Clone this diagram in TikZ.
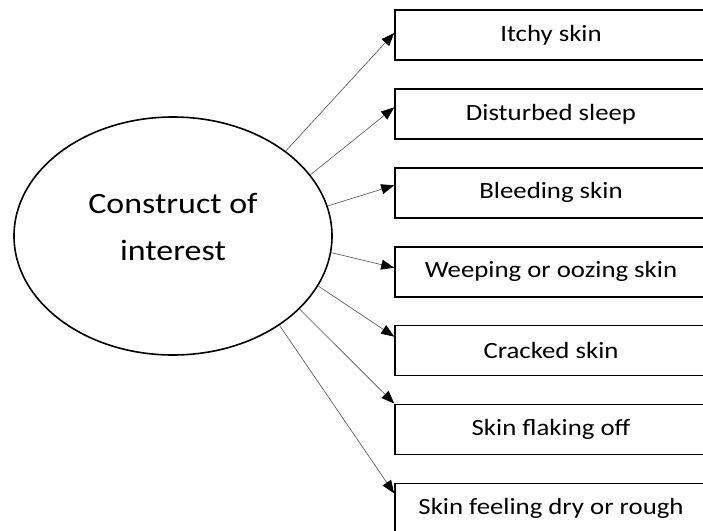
\documentclass[tikz,border=0pt]{standalone}
\usepackage{fontspec}
\setmainfont{Carlito}[FakeStretch=1.15]
\usetikzlibrary{arrows.meta, positioning, shapes.geometric}

\begin{document}
\begin{tikzpicture}[x=1pt, y=-1pt, node distance=27.3pt,
    itembox/.style={draw, line width=1.6pt, minimum width=312pt, minimum height=50pt,
      inner sep=0pt, font=\fontsize{23.3}{28}\selectfont},
    link/.style={draw=black!70, line width=0.6pt, -{Triangle[length=13pt, width=10pt, black]}}]
  % Frame
  \useasboundingbox (0,0) rectangle (703,530);
  \clip (0,0) rectangle (703,530);

  % Construct
  \node[ellipse, draw, line width=1.6pt, minimum width=318pt, minimum height=238pt,
        inner sep=0pt] (construct) at (173,236) {};
  \node[align=center, font=\fontsize{29.5}{47}\selectfont]
        (title) at ([yshift=9pt]construct.center) {Construct of\\interest};

  % Items
  \node[itembox] (itchy) at (551,35) {Itchy skin};
  \node[itembox, below=of itchy] (sleep) {Disturbed sleep};
  \node[itembox, below=of sleep] (bleeding) {Bleeding skin};
  \node[itembox, below=of bleeding] (weeping) {Weeping or oozing skin};
  \node[itembox, below=of weeping] (cracked) {Cracked skin};
  \node[itembox, below=of cracked] (flaking) {Skin flaking off};
  \node[itembox, below=of flaking] (dry) {Skin feeling dry or rough};

  % Links
  \foreach \a/\b/\s in {37/itchy/2, 24.7/sleep/6.5, 11.3/bleeding/7.5, -6.1/weeping/4,
                        -19.4/cracked/14, -30.2/flaking/26, -40/dry/15} {
    \draw[link] (construct.\a) -- ([yshift=\s pt]\b.west);
  }
\end{tikzpicture}
\end{document}
